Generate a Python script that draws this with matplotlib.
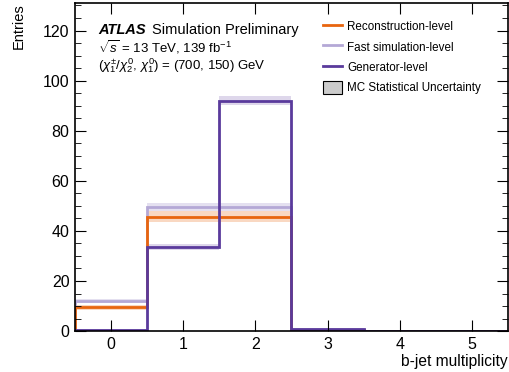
import matplotlib
matplotlib.use("Agg")
import matplotlib.pyplot as plt
import numpy as np
from matplotlib.lines import Line2D
from matplotlib.patches import Patch
from matplotlib.ticker import MultipleLocator

plt.rcParams['font.family'] = ['Liberation Sans', 'DejaVu Sans']
plt.rcParams['mathtext.fontset'] = 'custom'
plt.rcParams['mathtext.rm'] = 'Liberation Sans'
plt.rcParams['mathtext.it'] = 'Liberation Sans:italic'

# b-jet multiplicity bins
edges = [-0.5, 0.5, 1.5, 2.5, 3.5, 4.5, 5.5]
tick_labels = ['0', '1', '2', '3', '4', '5']

reco = [9.6, 45.6, 45.6, 0.3, 0.1, 0.0]
reco_err = [1.0, 2.2, 2.2, 0.2, 0.1, 0.0]
fast = [12.0, 49.6, 49.6, 0.3, 0.1, 0.0]
fast_err = [0.9, 1.5, 1.5, 0.2, 0.1, 0.0]
gen = [0.5, 33.5, 92.0, 0.9, 0.2, 0.0]
gen_err = [0.3, 1.3, 1.8, 0.3, 0.1, 0.0]

c_reco = '#e8650e'
c_fast = '#b4a8d6'
c_gen = '#5a3a9c'

fig = plt.figure(figsize=(5.10, 3.72), dpi=100)
ax = fig.add_axes([0.147, 0.110, 0.849, 0.882])

def band(vals, errs, color, alpha):
    v = np.array(vals)
    e = np.array(errs)
    ax.stairs(v + e, edges, baseline=v - e, fill=True, color=color,
              alpha=alpha, lw=0)

band(fast, fast_err, c_fast, 0.35)
band(gen, gen_err, c_gen, 0.2)
band(reco, reco_err, c_reco, 0.25)

ax.stairs(fast, edges, color=c_fast, lw=2)
ax.stairs(reco, edges, color=c_reco, lw=2)
ax.stairs(gen, edges, color=c_gen, lw=2)

ax.set_xlim(-0.5, 5.5)
ax.set_ylim(0, 131)
ax.set_xticks(range(len(tick_labels)))
ax.set_xticklabels(tick_labels)
ax.yaxis.set_major_locator(MultipleLocator(20))
ax.yaxis.set_minor_locator(MultipleLocator(5))
ax.tick_params(which='both', direction='in', top=True, right=True,
               labelsize=11.5, pad=4)
ax.tick_params(which='major', length=8)
ax.tick_params(which='minor', length=4)
for s in ax.spines.values():
    s.set_linewidth(1.2)

ax.set_ylabel('Entries', fontsize=10.5, loc='top', labelpad=12)
ax.set_xlabel('b-jet multiplicity', fontsize=11.2, loc='right', labelpad=2)

ax.text(0.054, 0.918, 'ATLAS', transform=ax.transAxes, fontsize=10.5,
        fontweight='bold', fontstyle='italic', va='center')
ax.text(0.177, 0.918, 'Simulation Preliminary', transform=ax.transAxes,
        fontsize=10.5, va='center')
ax.text(0.054, 0.865, r'$\sqrt{s}$ = 13 TeV, 139 fb$^{-1}$',
        transform=ax.transAxes, fontsize=9.5, va='center')
ax.text(0.054, 0.808,
        r'$(\chi^{\pm}_{1}/\chi^{0}_{2},\,\chi^{0}_{1})$ = (700, 150) GeV',
        transform=ax.transAxes, fontsize=9.5, va='center')

handles = [
    Line2D([], [], color=c_reco, lw=2),
    Line2D([], [], color=c_fast, lw=2),
    Line2D([], [], color=c_gen, lw=2),
    Patch(facecolor='#cccccc', edgecolor='black', lw=0.8),
]
labels = ['Reconstruction-level', 'Fast simulation-level', 'Generator-level',
          'MC Statistical Uncertainty']
ax.legend(handles, labels, loc='upper left', bbox_to_anchor=(0.572, 0.948),
          frameon=False, fontsize=8.4, handlelength=1.7, handleheight=1.3,
          labelspacing=0.6, handletextpad=0.4, borderaxespad=0,
          borderpad=0)

fig.savefig('out.png', dpi=100)
